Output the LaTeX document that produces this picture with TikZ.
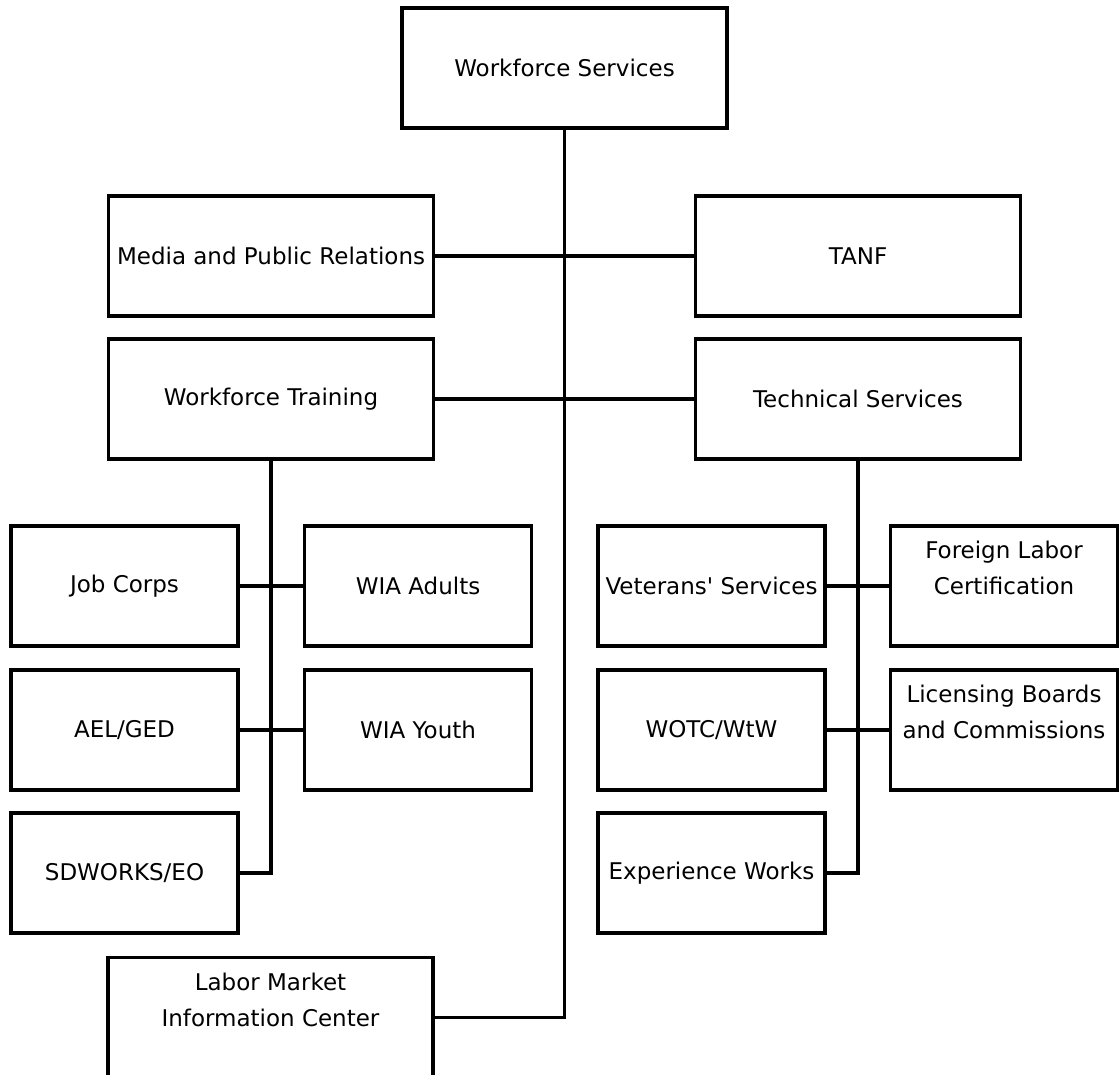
\documentclass[tikz,border=0pt]{standalone}
\usepackage{fontspec}
\setmainfont{DejaVu Sans}
\begin{document}
\begin{tikzpicture}[x=1pt,y=-1pt,
  box/.style={draw=black, line width=3.2pt, fill=white, rectangle, inner sep=1pt,
    align=center, minimum height=120pt, font=\fontsize{23}{36}\selectfont},
  wide/.style={box, minimum width=325pt},
  narrow/.style={box, minimum width=227pt},
  lbl/.style={align=center, inner sep=1pt, font=\fontsize{23}{36}\selectfont},
  conn/.style={draw=black, line width=3.4pt, line join=miter}]
\useasboundingbox (0,0) rectangle (1119,1074);
\clip (0,0) rectangle (1119,1074);
% top levels
\node[wide] (ws) at (564.5,68) {Workforce Services};
\node[wide] (media) at (271,256) {Media and Public Relations};
\node[wide] (tanf) at (858,256) {TANF};
\node[wide] (wt) at (271,399) {Workforce Training};
\node[wide] (tech) at (858,399) {Technical Services};
% left branch
\node[narrow] (jc) at (124.5,586) {Job Corps};
\node[narrow] (wa) at (418,586) {WIA Adults};
\node[narrow] (ael) at (124.5,730) {AEL/GED};
\node[narrow] (wy) at (418,730) {WIA Youth};
\node[narrow] (sd) at (124.5,873) {SDWORKS/EO};
% right branch
\node[narrow] (vs) at (711.5,586) {Veterans\textquotesingle{} Services};
\node[narrow] (flc) at (1004,586) {Foreign Labor\\Certification\\\mbox{}};
\node[narrow] (wotc) at (711.5,730) {WOTC/WtW};
\node[narrow] (lbc) at (1004,730) {Licensing Boards\\and Commissions\\\mbox{}};
\node[narrow] (ew) at (711.5,873) {Experience Works};
% bottom (box runs past the lower edge of the picture)
\node[wide, minimum height=140pt, anchor=north] (lmic) at (270.5,956) {};
\node[lbl] (lmictext) at (270.5,1000) {Labor Market\\Information Center};
% connectors
\draw[conn] (ws.south) |- ([yshift=10pt]lmic.east);
\draw[conn] (media.east) -- (tanf.west);
\draw[conn] (wt.east) -- (tech.west);
\draw[conn] (wt.south) |- (sd.east);
\draw[conn] (jc.east) -- (wa.west);
\draw[conn] (ael.east) -- (wy.west);
\draw[conn] (tech.south) |- (ew.east);
\draw[conn] (vs.east) -- (flc.west);
\draw[conn] (wotc.east) -- (lbc.west);
\end{tikzpicture}
\end{document}
